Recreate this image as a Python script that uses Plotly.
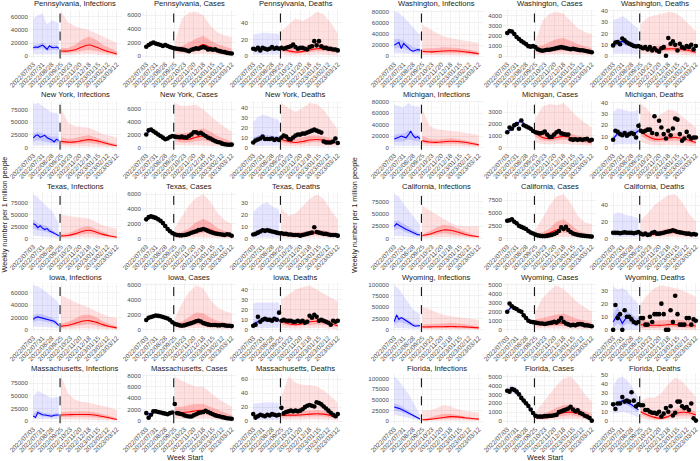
import plotly.graph_objects as go
import pandas as pd

# ---------------- x axis (weekly) ----------------
WEEKS = pd.date_range("2022-07-03", periods=37, freq="7D")
TICK_LABELS = ["2022/07/03", "2022/07/31", "2022/08/28", "2022/09/25", "2022/10/23",
               "2022/11/20", "2022/12/18", "2023/01/15", "2023/02/12", "2023/03/12"]
FIT_IDX = [0, 2, 4, 6, 8, 10, 11]          # weeks of fitted (blue) band values
FC_IDX = [12, 15, 18, 21, 24, 27, 30, 33, 36]  # weeks of forecast (red) band values
LINE_IDX = list(range(12))                  # weekly blue infection line
FORECAST_START = "2022-09-22"

LEFT_STATES = ["Pennsylvania", "New York", "Texas", "Iowa", "Massachusetts"]
RIGHT_STATES = ["Washington", "Michigan", "California", "Wyoming", "Florida"]
MEASURES = ["Infections", "Cases", "Deaths"]

# y tick steps per row: [Infections, Cases, Deaths]
Y_STEP_LEFT = [[20000, 2000, 20], [25000, 2000, 10], [25000, 2000, 10], [20000, 2000, 10], [25000, 2000, 20]]
Y_STEP_RIGHT = [[20000, 1000, 10], [20000, 1000, 10], [25000, 2500, 20], [25000, 1000, 10], [25000, 1000, 10]]

# rows of bands: [lo95, lo50, median, hi50, hi95]
# ---------------- Pennsylvania ----------------
PA_INF_LINE = [13000, 14000, 13500, 15500, 17000, 14000, 10500, 16000, 13500, 13000, 14000, 12000]
PA_INF_FIT = [[3000, 10000, 13000, 17000, 57000], [4000, 11000, 13500, 18000, 62000], [4000, 12000, 17000, 21000, 65000],
              [3000, 8000, 11000, 15000, 48000], [3000, 10000, 13500, 17000, 55000], [3000, 10000, 14000, 17000, 52000],
              [3000, 9000, 12000, 15000, 50000]]
PA_INF_FC = [[2000, 5000, 8000, 12500, 67500], [2000, 5000, 8000, 12500, 52000], [2500, 6000, 10000, 17500, 45000],
             [3000, 8000, 14000, 25000, 42000], [3500, 10000, 17000, 30000, 40000], [3000, 8000, 14000, 25000, 35000],
             [2000, 6000, 10000, 17500, 30000], [1500, 4000, 6500, 12500, 25000], [800, 2000, 3500, 7500, 20000]]
PA_CAS_OBS = [1400, 1650, 1850, 2000, 1850, 1750, 1650, 1500, 1650, 1500, 1350, 1250,
              1150, 1100, 1050, 1000, 950, 850, 750, 950, 1050, 1150, 1100, 1250, 1350, 1250, 1000, 1050,
              950, 1000, 850, 750, 650, 600, 500, 450, 400]
PA_CAS_FIT = [[1230, 1340, 1400, 1460, 1570], [1630, 1780, 1850, 1920, 2070], [1630, 1780, 1850, 1920, 2070],
              [1450, 1590, 1650, 1710, 1850], [1450, 1590, 1650, 1710, 1850], [1190, 1300, 1350, 1400, 1510],
              [1100, 1200, 1250, 1300, 1400]]
PA_CAS_FC = [[400, 800, 1000, 1200, 2000], [300, 600, 900, 1500, 5500], [300, 600, 900, 2000, 6400],
             [300, 700, 1200, 2600, 6500], [400, 900, 1700, 3000, 6000], [300, 700, 1300, 2300, 4500],
             [200, 500, 900, 1800, 3500], [150, 400, 700, 1500, 3000], [100, 250, 450, 1100, 2800]]
PA_DEA_OBS = [9, 8, 10, 7, 10, 9, 8, 9, 11, 9, 10, 9,
              10, 9, 10, 11, 12, 14, 11, 9, 10, 10, 9, 8, 11, 12, 18, 13, 18, 12, 10, 10, 9, 9, 8, 8, 7]
PA_DEA_FIT = [[2, 7, 9, 11, 26], [2, 7, 9.5, 12, 27], [2, 7.5, 9.5, 12, 28], [2, 7, 9, 11.5, 28],
              [2, 7.5, 9.5, 12, 27], [2, 7, 9, 11.5, 27], [2, 7, 9, 11, 26]]
PA_DEA_FC = [[2, 6, 9, 13, 30], [1, 4, 6.5, 11, 37], [1, 3, 5, 10, 45], [1, 3.5, 5.5, 11, 42], [1.5, 5, 7.5, 14, 46],
             [2, 6, 9, 16, 53], [2, 6, 9, 14, 50], [1.5, 5, 8, 12, 40], [1, 4, 6, 9, 27]]

# ---------------- New York ----------------
NY_INF_LINE = [19000, 23000, 25000, 20000, 22000, 24000, 19000, 17000, 15000, 11000, 16000, 14000]
NY_INF_FIT = [[4000, 12000, 19000, 27000, 85000], [5000, 15000, 25000, 30000, 88000], [5000, 13000, 22000, 28000, 82000],
              [4000, 11000, 19000, 25000, 75000], [4000, 9000, 15000, 21000, 69000], [4000, 9000, 16000, 22000, 68000],
              [4000, 8000, 14000, 20000, 65000]]
NY_INF_FC = [[2500, 7000, 12000, 20000, 78000], [2000, 6000, 10500, 17000, 49000], [2000, 6500, 11000, 18000, 42000],
             [2500, 8000, 13500, 22000, 41000], [3000, 9000, 15500, 24000, 39000], [2500, 8000, 13500, 20000, 33000],
             [2000, 6000, 10000, 15000, 26000], [1200, 4000, 6500, 10000, 23000], [600, 2000, 3500, 7000, 19600]]
NY_CAS_OBS = [2050, 2700, 2800, 2550, 2300, 2050, 1800, 1550, 1300, 1400, 1650, 1800,
              1700, 1650, 1600, 1700, 1600, 1550, 1800, 2050, 2400, 2400, 2200, 2300, 2050, 1800, 1550, 1400,
              1200, 1000, 870, 770, 600, 500, 450, 430, 450]
NY_CAS_FIT = [[1800, 1970, 2050, 2130, 2300], [2460, 2690, 2800, 2910, 3140], [2020, 2210, 2300, 2390, 2580],
              [1580, 1730, 1800, 1870, 2020], [1140, 1250, 1300, 1350, 1460], [1450, 1580, 1650, 1720, 1850],
              [1580, 1730, 1800, 1870, 2020]]
NY_CAS_FC = [[400, 1000, 1500, 2200, 7000], [300, 800, 1300, 2200, 6500], [300, 800, 1300, 2400, 6600],
             [350, 1000, 1600, 2800, 6700], [400, 1100, 1800, 3000, 6000], [300, 900, 1500, 2500, 5000],
             [200, 600, 1100, 1800, 4000], [150, 400, 700, 1300, 3200], [100, 250, 450, 900, 2500]]
NY_DEA_OBS = [5, 7, 8, 9, 11, 8.5, 8.5, 8.5, 9, 7.5, 8.5, 7.5,
              10, 12, 11, 8.5, 8, 10, 12, 13, 13, 14, 14, 15, 16, 17, 18, 17, 16, 15, 6, 5,
              5, 5, 6, 9, 4.5]
NY_DEA_FIT = [[1.5, 5, 7, 10, 26], [2, 6, 8.5, 12, 31], [2, 7, 9.5, 13, 33], [2, 6.5, 9, 12.5, 32],
              [2, 6.5, 9, 12, 30], [2, 6, 8.5, 11.5, 29], [2, 6, 8, 11, 28]]
NY_DEA_FC = [[1.5, 5, 8, 12, 45], [1, 4, 6, 10, 40], [1, 3, 5, 9, 36], [1, 3.5, 6, 10, 40], [1.5, 5, 7.5, 12, 45],
             [2, 5.5, 8, 12, 44], [1.5, 5, 7.5, 11, 38], [1, 4, 6, 9, 28], [0.8, 3, 4.5, 7, 18]]

# ---------------- Texas ----------------
TX_INF_LINE = [31000, 29000, 23000, 27000, 22000, 19000, 21000, 16000, 14000, 12000, 9000, 6000]
TX_INF_FIT = [[6000, 22000, 31000, 40000, 93000], [5000, 17000, 23000, 32000, 86000], [5000, 16000, 22000, 29000, 76000],
              [4000, 14000, 21000, 26000, 66000], [3000, 10000, 14000, 19000, 59000], [2000, 6000, 9000, 13000, 42000],
              [1500, 4000, 6000, 9000, 32000]]
TX_INF_FC = [[1500, 3500, 5500, 9000, 50000], [1500, 4000, 6500, 11000, 47000], [2000, 6000, 10000, 17000, 45000],
             [3000, 9000, 15000, 24000, 44000], [3500, 11000, 17500, 26000, 42000], [3000, 9000, 14000, 20000, 35000],
             [2000, 6000, 9000, 13000, 28000], [1200, 3500, 5500, 8000, 24000], [600, 1800, 3000, 5000, 21000]]
TX_CAS_OBS = [2600, 2900, 3000, 2900, 2800, 2600, 2400, 2100, 1700, 1300, 1000, 750,
              600, 500, 450, 450, 500, 550, 650, 800, 900, 1000, 1150, 1200, 1300, 1200, 1050, 900,
              800, 700, 650, 600, 550, 500, 600, 550, 400]
TX_CAS_FIT = [[2290, 2500, 2600, 2700, 2910], [2640, 2880, 3000, 3120, 3360], [2460, 2690, 2800, 2910, 3140],
              [2110, 2300, 2400, 2500, 2690], [1500, 1630, 1700, 1770, 1900], [880, 960, 1000, 1040, 1120],
              [660, 720, 750, 780, 840]]
TX_CAS_FC = [[100, 300, 500, 800, 1500], [100, 300, 500, 900, 3000], [150, 400, 700, 1400, 4500],
             [200, 600, 1100, 2200, 5500], [250, 800, 1400, 2700, 6000], [200, 700, 1200, 2200, 5000],
             [150, 450, 800, 1400, 3500], [100, 300, 550, 1000, 2500], [50, 200, 350, 700, 2000]]
TX_DEA_OBS = [3.5, 4, 5, 6, 7, 6.5, 7, 6.5, 6, 5.5, 5, 4.5,
              4.5, 4, 4, 3.5, 3.5, 3, 3, 3, 2.5, 3, 3.5, 4, 4.5, 5, 9.5, 5.5, 5, 4.5, 4, 4,
              3.5, 3, 3, 3, 2.5]
TX_DEA_FIT = [[0.5, 2.5, 3.5, 5, 22], [0.8, 3.5, 5, 7, 26], [1, 4.5, 6.5, 8.5, 29], [1, 5, 7, 9, 30],
              [1, 4.5, 6, 8, 27], [0.8, 3.5, 5, 7, 25], [0.7, 3, 4.5, 6, 24]]
TX_DEA_FC = [[1, 3, 4.5, 6, 25], [0.8, 2.5, 3.5, 5, 19], [0.7, 2, 3, 5, 21], [0.8, 2.5, 3.5, 6, 27], [1, 3, 4.5, 7, 33],
             [1.2, 3.5, 5, 7.5, 37], [1, 3, 4.5, 7, 33], [0.8, 2.5, 3.5, 5.5, 24], [0.5, 1.5, 2.5, 4, 16]]

# ---------------- Iowa ----------------
IA_INF_LINE = [17000, 20000, 21000, 20000, 19000, 18000, 17500, 17000, 16000, 14000, 11000, 7000]
IA_INF_FIT = [[5000, 12000, 17000, 24000, 72000], [5000, 15000, 21000, 26000, 70000], [5000, 14000, 19000, 25000, 66000],
              [4000, 13000, 17500, 22000, 60000], [4000, 11000, 16000, 20000, 55000], [3000, 8000, 11000, 15000, 48000],
              [2000, 5000, 7000, 10000, 42000]]
IA_INF_FC = [[1500, 3500, 6000, 10000, 56000], [1500, 4500, 7500, 13000, 50000], [2000, 6000, 10500, 18000, 45000],
             [2500, 8000, 14000, 24000, 40000], [3000, 9000, 15000, 25000, 36000], [2500, 7500, 12500, 21000, 30000],
             [1800, 5000, 8500, 14000, 25000], [1200, 3200, 5500, 9000, 21000], [600, 1800, 3200, 6000, 19000]]
IA_CAS_OBS = [1300, 1600, 1700, 1800, 1900, 1850, 1800, 1700, 1600, 1500, 1300, 1000,
              800, 700, 600, 550, 600, 700, 800, 900, 1000, 1150, 1200, 1100, 900, 800, 700, 650,
              650, 650, 600, 600, 650, 600, 550, 550, 500]
IA_CAS_FIT = [[1140, 1250, 1300, 1350, 1460], [1500, 1630, 1700, 1770, 1900], [1670, 1820, 1900, 1980, 2130],
              [1580, 1730, 1800, 1870, 2020], [1410, 1540, 1600, 1660, 1790], [1140, 1250, 1300, 1350, 1460],
              [880, 960, 1000, 1040, 1120]]
IA_CAS_FC = [[150, 400, 600, 900, 1500], [150, 400, 700, 1100, 3500], [200, 500, 900, 1700, 5000],
             [250, 700, 1200, 2300, 5900], [250, 650, 1100, 2200, 5500], [200, 500, 850, 1600, 4000],
             [150, 400, 650, 1200, 3000], [100, 300, 500, 900, 2500], [80, 200, 400, 700, 2200]]
IA_DEA_OBS = [4, 5, 13, 8, 10, 11, 10, 10, 9, 11, 10, 17,
              9, 10, 9, 9, 9, 8, 8, 9, 8, 9, 7, 8, 14, 12, 15, 13, 9, 10, 9, 8,
              7, 5, 9, 8, 9]
IA_DEA_FIT = [[1, 4, 6, 8, 26], [1.5, 6, 8, 11, 27], [2, 7.5, 10, 12.5, 27], [2, 7.5, 10, 12.5, 27],
              [2, 7.5, 10, 12.5, 27], [2, 7.5, 10, 12.5, 27], [2, 7.5, 10, 12.5, 27]]
IA_DEA_FC = [[2, 5.5, 8, 11, 30], [1.5, 4, 6, 9, 35], [1, 3.5, 5, 9, 40], [1.2, 4, 6, 10, 42], [1.5, 5, 8, 12, 44],
             [2, 5.5, 8.5, 12, 40], [1.5, 5, 7.5, 11, 36], [1, 4, 6, 9, 32], [0.7, 2.5, 4, 7, 28]]

# ---------------- Massachusetts ----------------
MA_INF_LINE = [10000, 7000, 17000, 14000, 12500, 12000, 11000, 10500, 9500, 11500, 12500, 12000]
MA_INF_FIT = [[4000, 7000, 10000, 14000, 48000], [4000, 12000, 17000, 22000, 60000], [4000, 9000, 12500, 17000, 55000],
              [4000, 8000, 11000, 15000, 50000], [4000, 7000, 9500, 14000, 45000], [4000, 9000, 12500, 16000, 48000],
              [4000, 9000, 12000, 16000, 47000]]
MA_INF_FC = [[3000, 8000, 12000, 18000, 88000], [3000, 8000, 12500, 19000, 55000], [3000, 8500, 13000, 19000, 42000],
             [3000, 8500, 13000, 19000, 38000], [3000, 8500, 13000, 19000, 36000], [2500, 7500, 11500, 17000, 33000],
             [2000, 6000, 9000, 14000, 30000], [1300, 4000, 6000, 10000, 27000], [700, 2000, 3000, 6000, 22000]]
MA_CAS_OBS = [1400, 600, 1100, 1700, 1700, 1600, 1500, 1400, 1300, 1200, 1400, 1500,
              3000, 1400, 1300, 1200, 1000, 900, 800, 800, 1000, 1200, 1400, 1500, 1600, 1800, 1600, 1400,
              1200, 1000, 900, 800, 700, 600, 500, 450, 400]
MA_CAS_FIT = [[1230, 1340, 1400, 1460, 1570], [970, 1060, 1100, 1140, 1230], [1500, 1630, 1700, 1770, 1900],
              [1320, 1440, 1500, 1560, 1680], [1140, 1250, 1300, 1350, 1460], [1230, 1340, 1400, 1460, 1570],
              [1320, 1440, 1500, 1560, 1680]]
MA_CAS_FC = [[400, 1000, 1500, 2500, 7800], [350, 900, 1500, 2500, 7000], [350, 1000, 1600, 2800, 6500],
             [400, 1100, 1800, 3000, 6000], [450, 1200, 1900, 3000, 6000], [400, 1000, 1600, 2500, 5000],
             [250, 700, 1200, 2000, 4000], [150, 500, 800, 1400, 3200], [100, 300, 500, 1000, 2500]]
MA_DEA_OBS = [10, 5, 7, 9, 8, 7, 9, 8, 10, 9, 8, 9,
              19, 11, 13, 14, 15, 14, 15, 14, 15, 17, 20, 22, 23, 22, 21, 27, 26, 24, 21, 18,
              15, 12, 9, 7, 10]
MA_DEA_FIT = [[2, 5.5, 7.5, 9.5, 25], [2, 5.5, 7.5, 10, 26], [2, 6, 8, 10.5, 27], [2, 6, 8, 10.5, 27],
              [2, 6, 8.5, 11, 27], [2, 6, 8.5, 11, 26], [2, 6, 8.5, 11, 26]]
MA_DEA_FC = [[2, 5, 8, 12, 35], [2, 5.5, 8.5, 13, 64], [2, 5.5, 8.5, 14, 55], [2, 6, 9, 15, 52], [2.5, 6.5, 10, 16, 52],
             [2.5, 7, 10.5, 16, 50], [2.5, 6.5, 10, 15, 44], [2, 5, 8, 12, 36], [1, 3, 5, 8, 26]]

# ---------------- Washington ----------------
WA_INF_LINE = [20000, 22000, 25000, 14000, 23000, 19000, 15000, 11000, 9000, 10000, 12000, 11000]
WA_INF_FIT = [[5000, 14000, 20000, 30000, 80000], [5000, 15000, 25000, 31000, 78000], [5000, 14000, 23000, 28000, 70000],
              [4000, 11000, 15000, 22000, 62000], [3000, 7000, 9000, 16000, 52000], [3000, 7000, 11000, 15000, 42000],
              [3000, 7000, 11000, 15000, 40000]]
WA_INF_FC = [[2000, 5500, 9000, 14000, 56000], [2000, 5000, 8000, 14000, 50000], [2000, 5000, 8500, 15000, 42000],
             [2000, 5500, 9500, 16000, 36000], [2200, 6000, 10000, 16000, 33000], [2000, 5500, 9500, 15000, 30000],
             [1800, 5000, 8000, 13000, 28000], [1300, 4000, 6500, 11000, 26000], [800, 2500, 4500, 8000, 24000]]
WA_CAS_OBS = [2300, 2500, 2450, 2200, 1900, 1700, 1500, 1350, 1200, 1000, 950, 1000,
              900, 700, 600, 550, 600, 650, 650, 700, 750, 800, 850, 900, 850, 800, 750, 700,
              750, 700, 650, 600, 600, 550, 500, 450, 400]
WA_CAS_FIT = [[2020, 2210, 2300, 2390, 2580], [2160, 2350, 2450, 2550, 2740], [1670, 1820, 1900, 1980, 2130],
              [1320, 1440, 1500, 1560, 1680], [1060, 1150, 1200, 1250, 1340], [840, 910, 950, 990, 1060],
              [880, 960, 1000, 1040, 1120]]
WA_CAS_FC = [[150, 450, 700, 1000, 1500], [150, 400, 650, 1100, 3500], [150, 450, 700, 1400, 4200],
             [200, 500, 850, 1700, 4400], [200, 550, 900, 1800, 4200], [200, 500, 800, 1500, 3500],
             [150, 400, 650, 1200, 2800], [120, 350, 550, 1000, 2400], [80, 250, 450, 800, 2200]]
WA_DEA_OBS = [9.5, 12, 12.5, 10.5, 15.5, 14, 12, 11, 10, 9, 8.5, 9,
              8, 7, 8, 6, 8, 5, 7, 5, 4, 7, 8, 0.5, 16, 11, 13, 10, 5, 11, 8, 7,
              9, 8, 10, 6, 9]
WA_DEA_FIT = [[2, 8, 10, 13, 32], [2.5, 9, 12, 15, 33], [2.5, 10, 13, 16, 35], [2, 9, 11, 14, 33],
              [2, 8, 10, 12.5, 29], [1.5, 7, 9, 11, 26], [1.5, 6.5, 8.5, 10.5, 24]]
WA_DEA_FC = [[2, 5, 7.5, 10, 28], [1.5, 4.5, 6.5, 9, 34], [1.5, 4, 6, 9, 36], [1.5, 4, 6, 9, 37], [1.5, 4.5, 6.5, 10, 39],
             [1.5, 4.5, 6.5, 10, 38], [1.5, 4, 6, 9, 34], [1, 3, 5, 8, 28], [0.5, 2, 3.5, 6, 22]]

# ---------------- Michigan ----------------
MI_INF_LINE = [15000, 16000, 18000, 20000, 19000, 17000, 22000, 29000, 21000, 17000, 19000, 15000]
MI_INF_FIT = [[3000, 10000, 15000, 22000, 75000], [3000, 11000, 18000, 24000, 72000], [3000, 11000, 19000, 24000, 70000],
              [3000, 14000, 22000, 30000, 78000], [3000, 12000, 21000, 25000, 72000], [3000, 11000, 19000, 23000, 72000],
              [3000, 10000, 15000, 21000, 70000]]
MI_INF_FC = [[2500, 7500, 12000, 20000, 67000], [2000, 6000, 9500, 15000, 38000], [2000, 5500, 9000, 14000, 32000],
             [2000, 6000, 10000, 15000, 30000], [2200, 6500, 11000, 16000, 29000], [2200, 6500, 10500, 15000, 28000],
             [2000, 5500, 9000, 13000, 26000], [1500, 4000, 7000, 10000, 24000], [800, 2500, 4500, 7000, 22000]]
MI_CAS_OBS = [1300, 1700, 1600, 1900, 2000, 1600, 2300, 1900, 1800, 1700, 1600, 1400,
              1300, 1250, 1200, 1250, 1350, 1100, 900, 900, 1100, 1300, 1400, 1200, 1150, 1100, 1100, 700,
              650, 700, 650, 700, 650, 700, 750, 600, 650]
MI_CAS_FIT = [[1140, 1250, 1300, 1350, 1460], [1410, 1540, 1600, 1660, 1790], [1760, 1920, 2000, 2080, 2240],
              [2020, 2210, 2300, 2390, 2580], [1580, 1730, 1800, 1870, 2020], [1410, 1540, 1600, 1660, 1790],
              [1230, 1340, 1400, 1460, 1570]]
MI_CAS_FC = [[400, 900, 1200, 1500, 2500], [300, 600, 850, 1300, 3500], [250, 550, 750, 1200, 3700],
             [300, 600, 850, 1300, 3600], [300, 650, 950, 1400, 3800], [300, 600, 850, 1200, 3200],
             [250, 500, 700, 1000, 2600], [200, 400, 600, 900, 2100], [150, 300, 450, 700, 1700]]
MI_DEA_OBS = [7, 15, 14, 12, 11, 13, 10.5, 12, 13, 12, 9, 19.5,
              15, 14, 15, 16, 16, 13, 28, 12, 24, 18, 12, 8, 15, 11, 17, 26, 25, 12, 6, 8,
              14, 10, 8, 9, 9]
MI_DEA_FIT = [[2, 6, 8, 11, 32], [3, 10, 12.5, 15, 35], [3, 10, 12, 15, 34], [3, 10, 12, 15, 33],
              [3, 10, 12.5, 15.5, 32], [3, 11, 13.5, 17, 33], [3.5, 12, 15, 18, 34]]
MI_DEA_FC = [[5, 11, 15, 18, 40], [3, 7, 10, 13, 34], [2, 5, 7.5, 11, 26], [2, 5, 7.5, 12, 30], [2.5, 5.5, 8.5, 13, 34],
             [2.5, 6, 9, 13, 33], [2, 5.5, 8, 12, 28], [1.5, 4.5, 6.5, 10, 23], [1, 3, 4.5, 8, 18]]

# ---------------- California ----------------
CA_INF_LINE = [25000, 30000, 27000, 24000, 22000, 19000, 17000, 15000, 12000, 10000, 8000, 8000]
CA_INF_FIT = [[6000, 18000, 25000, 35000, 90000], [6000, 20000, 27000, 36000, 85000], [5000, 15000, 22000, 30000, 70000],
              [4000, 11000, 17000, 24000, 58000], [3000, 8000, 12000, 18000, 45000], [2000, 5000, 8000, 12000, 32000],
              [2000, 5000, 8000, 10000, 28000]]
CA_INF_FC = [[1500, 4000, 6500, 9000, 66000], [2000, 5500, 9000, 15000, 57000], [3000, 8500, 14000, 23000, 48000],
             [3500, 11000, 17500, 28000, 40000], [3500, 10500, 17000, 26000, 32000], [3000, 8500, 13500, 20000, 26000],
             [2000, 5500, 9000, 14000, 25000], [1200, 3500, 6000, 9000, 25000], [700, 2200, 4000, 6000, 25000]]
CA_CAS_OBS = [3500, 3600, 3800, 3300, 3000, 2500, 2300, 2100, 1900, 1500, 1200, 1000,
              800, 650, 550, 500, 500, 550, 650, 750, 900, 1100, 1500, 2200, 1900, 2300, 1700, 1300,
              1000, 850, 750, 650, 600, 550, 500, 450, 400]
CA_CAS_FIT = [[3080, 3360, 3500, 3640, 3920], [3340, 3650, 3800, 3950, 4260], [2640, 2880, 3000, 3120, 3360],
              [2020, 2210, 2300, 2390, 2580], [1670, 1820, 1900, 1980, 2130], [1060, 1150, 1200, 1250, 1340],
              [880, 960, 1000, 1040, 1120]]
CA_CAS_FC = [[150, 450, 700, 1000, 1800], [150, 450, 700, 1200, 4000], [200, 650, 1100, 2000, 6500],
             [300, 1000, 1700, 3300, 8300], [350, 1200, 2000, 3800, 8700], [300, 900, 1500, 2800, 7000],
             [200, 550, 900, 1600, 4500], [120, 350, 600, 1000, 3200], [80, 250, 400, 700, 2800]]
CA_DEA_OBS = [7, 7, 7, 6.5, 7, 7.5, 7, 7, 7, 6.5, 7, 8,
              6, 5, 6, 4.5, 5, 7, 8, 6, 6, 6.5, 7, 8, 8.5, 9, 10, 9, 8, 7.5, 7, 6.5,
              6, 6, 5, 5.5, 5]
CA_DEA_FIT = [[2, 5.5, 7, 8.5, 29], [2, 5.5, 7, 8.5, 31], [2, 5.5, 7, 8.5, 30], [2, 5.5, 7, 8.5, 28],
              [2, 5.5, 7, 8.5, 27], [2, 5.5, 7, 8.5, 25], [2, 5.5, 7, 8.5, 24]]
CA_DEA_FC = [[2, 4.5, 6, 8, 22], [1.5, 3.5, 5, 7, 30], [1.5, 3.5, 5, 8, 40], [1.5, 4, 6, 10, 46], [2, 5, 7.5, 12, 52],
             [2, 5.5, 8, 12, 53], [2, 5, 7, 10, 44], [1.5, 4, 5.5, 8, 30], [1, 2.5, 4, 6, 20]]

# ---------------- Wyoming ----------------
WY_INF_LINE = [18000, 33000, 23000, 27000, 24000, 21000, 18000, 14000, 10000, 8000, 9000, 9000]
WY_INF_FIT = [[4000, 12000, 18000, 25000, 98000], [4000, 17000, 23000, 30000, 90000], [4000, 15000, 24000, 28000, 75000],
              [3000, 11000, 18000, 22000, 60000], [2000, 7000, 10000, 15000, 45000], [2000, 6000, 9000, 12000, 38000],
              [2000, 6000, 9000, 12000, 35000]]
WY_INF_FC = [[1200, 3500, 6500, 11000, 50000], [1200, 3500, 6500, 12000, 46000], [1300, 3800, 7000, 13000, 38000],
             [1300, 4000, 7000, 14000, 33000], [1400, 4200, 7500, 15000, 30000], [1300, 4000, 7000, 14000, 28000],
             [1200, 3500, 6500, 12000, 26000], [1000, 3000, 5500, 10000, 24000], [800, 2500, 4500, 8000, 22000]]
WY_CAS_OBS = [2000, 2900, 2600, 2400, 2300, 2100, 2000, 1600, 1300, 1000, 900, 850,
              800, 750, 700, 700, 650, 700, 750, 800, 900, 800, 1000, 1300, 900, 700, 600, 500,
              550, 500, 600, 650, 600, 500, 500, 450, 400]
WY_CAS_FIT = [[1760, 1920, 2000, 2080, 2240], [2290, 2500, 2600, 2700, 2910], [2020, 2210, 2300, 2390, 2580],
              [1760, 1920, 2000, 2080, 2240], [1140, 1250, 1300, 1350, 1460], [790, 860, 900, 940, 1010],
              [750, 820, 850, 880, 950]]
WY_CAS_FC = [[150, 450, 750, 1200, 2000], [150, 400, 650, 1300, 3500], [150, 400, 650, 1500, 4300],
             [150, 450, 700, 1700, 4900], [150, 450, 750, 1800, 4500], [150, 400, 650, 1500, 3800],
             [120, 350, 550, 1200, 3000], [100, 300, 450, 1000, 2500], [80, 200, 350, 800, 2000]]
WY_DEA_OBS = [0, 19, 9, 12, 0, 15, 10, 10, 8, 6, 5, 6,
              9, 9, 4, 4, 10, 6, 12, 12, 12, 20, 12, 0, 0, 15, 6, 26, 12, 4, 4, 4,
              9, 9, 4, 8, 7]
WY_DEA_FIT = [[0, 2, 6, 12, 33], [0, 5, 12, 18, 31], [0, 2, 5, 10, 32], [0, 5, 10, 15, 30],
              [0, 4, 8, 12, 25], [0, 3, 6, 9, 22], [0, 2.5, 5.5, 8.5, 18]]
WY_DEA_FC = [[0, 1.5, 4, 8, 20], [0, 1.5, 3.5, 7, 27], [0, 1.5, 3.5, 7, 32], [0, 1.5, 3.5, 7.5, 34], [0, 2, 4, 8, 33],
             [0, 2, 4, 8, 32], [0, 1.5, 3.5, 7.5, 30], [0, 1.5, 3.5, 7, 28], [0, 1, 3, 6, 25]]

# ---------------- Florida ----------------
FL_INF_LINE = [33000, 32000, 30000, 28000, 25000, 22000, 19000, 16000, 13000, 10000, 7000, 5000]
FL_INF_FIT = [[15000, 25000, 33000, 42000, 105000], [13000, 23000, 30000, 38000, 95000], [10000, 19000, 25000, 32000, 80000],
              [7000, 15000, 19000, 25000, 65000], [4000, 10000, 13000, 17000, 45000], [2000, 5000, 7000, 10000, 25000],
              [1000, 3000, 5000, 6000, 15000]]
FL_INF_FC = [[500, 1500, 3000, 5000, 25000], [700, 2500, 4000, 8000, 25000], [1000, 3500, 6000, 13000, 30000],
             [1500, 5000, 8500, 17000, 38000], [2000, 6000, 10500, 17000, 35000], [2000, 6000, 10000, 14000, 28000],
             [1500, 5000, 8000, 10000, 24000], [1000, 3500, 6000, 8000, 22000], [700, 2500, 4500, 6000, 20000]]
FL_CAS_OBS = [3400, 3300, 3600, 3500, 3300, 3000, 2600, 2300, 2000, 1700, 1300, 900,
              600, 500, 500, 500, 550, 550, 600, 600, 650, 700, 1000, 1100, 1200, 1300, 1400, 1600,
              1300, 1100, 1200, 900, 800, 600, 500, 350, 50]
FL_CAS_FIT = [[2990, 3260, 3400, 3540, 3810], [3170, 3460, 3600, 3740, 4030], [2900, 3170, 3300, 3430, 3700],
              [2290, 2500, 2600, 2700, 2910], [1760, 1920, 2000, 2080, 2240], [1140, 1250, 1300, 1350, 1460],
              [790, 860, 900, 940, 1010]]
FL_CAS_FC = [[80, 250, 400, 600, 1000], [80, 250, 350, 800, 2000], [100, 300, 450, 1100, 3000],
             [150, 450, 700, 1500, 4000], [200, 600, 950, 1800, 4800], [250, 650, 1000, 1800, 5000],
             [200, 550, 850, 1500, 4200], [150, 400, 650, 1100, 3000], [100, 250, 450, 800, 2200]]
FL_DEA_OBS = [18, 13, 19, 19, 26, 21, 22, 21, 31, 22, 16, 18,
              17, 17, 12, 12, 10, 9, 9, 8, 10, 5, 8, 14, 10, 16, 6, 9, 21, 21, 16, 14,
              15, 12, 19, 3, 0.5]
FL_DEA_FIT = [[8, 14, 17, 20, 38], [9, 16, 19, 22, 46], [10, 18, 22, 25, 48], [9, 17, 20, 23, 44],
              [7, 14, 17.5, 20, 38], [5, 11, 14, 17, 30], [4, 9, 12, 15, 25]]
FL_DEA_FC = [[3, 7, 10, 14, 22], [1.5, 4, 6.5, 11, 25], [0.7, 2, 4, 8, 25], [0.5, 1.5, 3, 7, 30], [1, 3, 5, 10, 40],
             [2, 5, 8, 13, 47], [2.5, 6, 9.5, 14, 43], [2.5, 6, 9, 13, 35], [1.5, 4, 6.5, 10, 26]]

# ---------------- assemble panel lookup from the arrays above ----------------
PANELS = {
    ("Pennsylvania", "Infections"): (PA_INF_FIT, PA_INF_FC, PA_INF_LINE, None),
    ("Pennsylvania", "Cases"): (PA_CAS_FIT, PA_CAS_FC, None, PA_CAS_OBS),
    ("Pennsylvania", "Deaths"): (PA_DEA_FIT, PA_DEA_FC, None, PA_DEA_OBS),
    ("New York", "Infections"): (NY_INF_FIT, NY_INF_FC, NY_INF_LINE, None),
    ("New York", "Cases"): (NY_CAS_FIT, NY_CAS_FC, None, NY_CAS_OBS),
    ("New York", "Deaths"): (NY_DEA_FIT, NY_DEA_FC, None, NY_DEA_OBS),
    ("Texas", "Infections"): (TX_INF_FIT, TX_INF_FC, TX_INF_LINE, None),
    ("Texas", "Cases"): (TX_CAS_FIT, TX_CAS_FC, None, TX_CAS_OBS),
    ("Texas", "Deaths"): (TX_DEA_FIT, TX_DEA_FC, None, TX_DEA_OBS),
    ("Iowa", "Infections"): (IA_INF_FIT, IA_INF_FC, IA_INF_LINE, None),
    ("Iowa", "Cases"): (IA_CAS_FIT, IA_CAS_FC, None, IA_CAS_OBS),
    ("Iowa", "Deaths"): (IA_DEA_FIT, IA_DEA_FC, None, IA_DEA_OBS),
    ("Massachusetts", "Infections"): (MA_INF_FIT, MA_INF_FC, MA_INF_LINE, None),
    ("Massachusetts", "Cases"): (MA_CAS_FIT, MA_CAS_FC, None, MA_CAS_OBS),
    ("Massachusetts", "Deaths"): (MA_DEA_FIT, MA_DEA_FC, None, MA_DEA_OBS),
    ("Washington", "Infections"): (WA_INF_FIT, WA_INF_FC, WA_INF_LINE, None),
    ("Washington", "Cases"): (WA_CAS_FIT, WA_CAS_FC, None, WA_CAS_OBS),
    ("Washington", "Deaths"): (WA_DEA_FIT, WA_DEA_FC, None, WA_DEA_OBS),
    ("Michigan", "Infections"): (MI_INF_FIT, MI_INF_FC, MI_INF_LINE, None),
    ("Michigan", "Cases"): (MI_CAS_FIT, MI_CAS_FC, None, MI_CAS_OBS),
    ("Michigan", "Deaths"): (MI_DEA_FIT, MI_DEA_FC, None, MI_DEA_OBS),
    ("California", "Infections"): (CA_INF_FIT, CA_INF_FC, CA_INF_LINE, None),
    ("California", "Cases"): (CA_CAS_FIT, CA_CAS_FC, None, CA_CAS_OBS),
    ("California", "Deaths"): (CA_DEA_FIT, CA_DEA_FC, None, CA_DEA_OBS),
    ("Wyoming", "Infections"): (WY_INF_FIT, WY_INF_FC, WY_INF_LINE, None),
    ("Wyoming", "Cases"): (WY_CAS_FIT, WY_CAS_FC, None, WY_CAS_OBS),
    ("Wyoming", "Deaths"): (WY_DEA_FIT, WY_DEA_FC, None, WY_DEA_OBS),
    ("Florida", "Infections"): (FL_INF_FIT, FL_INF_FC, FL_INF_LINE, None),
    ("Florida", "Cases"): (FL_CAS_FIT, FL_CAS_FC, None, FL_CAS_OBS),
    ("Florida", "Deaths"): (FL_DEA_FIT, FL_DEA_FC, None, FL_DEA_OBS),
}

# ---------------- layout constants ----------------
W, H = 700, 461
COL_PX = [(29, 121), (142, 236), (249, 342), (390, 483), (503, 596), (609, 700)]
ROW_TOP0, ROW_PITCH, ROW_H = 9.5, 91.2, 49
FONT = "Liberation Sans, Arial, Helvetica, sans-serif"
BLUE_LIGHT = "rgba(0,0,255,0.10)"
BLUE_DARK = "rgba(0,0,255,0.14)"
RED_LIGHT = "rgba(255,0,0,0.12)"
RED_DARK = "rgba(255,0,0,0.20)"
GRID = "#ebebeb"
GRID_MINOR = "#f5f5f5"

def d(ts):
    return pd.Timestamp(ts).strftime("%Y-%m-%d")

x_lo = WEEKS[0] - pd.Timedelta(days=12.6)
x_hi = WEEKS[-1] + pd.Timedelta(days=12.6)
tick_dates = [d(WEEKS[i]) for i in range(0, 37, 4)]
minor_dates = [d(WEEKS[i]) for i in range(2, 37, 4)]

fig = go.Figure()
layout_axes = {}
annotations = []
shapes = []


def band(xs, lo, hi, color, xa, ya):
    return go.Scatter(x=xs + xs[::-1], y=list(hi) + list(lo)[::-1], fill="toself", fillcolor=color,
                      mode="lines", line=dict(width=0, color=color), hoverinfo="skip",
                      showlegend=False, xaxis=xa, yaxis=ya)


k = 0
for block, states in enumerate([LEFT_STATES, RIGHT_STATES]):
    steps = Y_STEP_LEFT if block == 0 else Y_STEP_RIGHT
    for r, st in enumerate(states):
        for c, meas in enumerate(MEASURES):
            k += 1
            fit, fc, line, obs = PANELS[(st, meas)]
            xa = "x" if k == 1 else f"x{k}"
            ya = "y" if k == 1 else f"y{k}"
            x0, x1 = COL_PX[block * 3 + c]
            ytop = ROW_TOP0 + ROW_PITCH * r
            ybot = ytop + ROW_H

            fx = [d(WEEKS[i]) for i in FIT_IDX]
            cx = [d(WEEKS[i]) for i in FC_IDX]
            col = lambda rows, j: [row[j] for row in rows]

            fig.add_trace(band(fx, col(fit, 0), col(fit, 4), BLUE_LIGHT, xa, ya))
            fig.add_trace(band(fx, col(fit, 1), col(fit, 3), BLUE_DARK, xa, ya))
            fig.add_trace(band(cx, col(fc, 0), col(fc, 4), RED_LIGHT, xa, ya))
            fig.add_trace(band(cx, col(fc, 1), col(fc, 3), RED_DARK, xa, ya))

            if line is not None:
                bx = [d(WEEKS[i]) for i in LINE_IDX]
                by = line
            else:
                bx, by = fx, col(fit, 2)
            fig.add_trace(go.Scatter(x=bx, y=by, mode="lines", line=dict(color="blue", width=1.1),
                                     hoverinfo="skip", showlegend=False, xaxis=xa, yaxis=ya))
            fig.add_trace(go.Scatter(x=cx, y=col(fc, 2), mode="lines", line=dict(color="red", width=1.1),
                                     line_shape="spline", hoverinfo="skip", showlegend=False, xaxis=xa, yaxis=ya))
            if obs is not None:
                fig.add_trace(go.Scatter(x=[d(w) for w in WEEKS], y=obs, mode="markers",
                                         marker=dict(color="black", size=4.6), hoverinfo="skip",
                                         showlegend=False, xaxis=xa, yaxis=ya))

            vals = [v for row in fit for v in row] + [v for row in fc for v in row]
            if line is not None:
                vals += list(line)
            if obs is not None:
                vals += list(obs)
            hi = max(vals)
            lo = min(0, min(vals))
            span = hi - lo
            step = steps[r][c]

            layout_axes["xaxis" if k == 1 else f"xaxis{k}"] = dict(
                domain=[x0 / W, x1 / W], anchor=ya, type="date", range=[d(x_lo) + " 09:36", d(x_hi) + " 14:24"],
                tickmode="array", tickvals=tick_dates, ticktext=TICK_LABELS, tickangle=-45, automargin=False,
                tickfont=dict(size=6.5, color="#4d4d4d", family=FONT), ticks="", showline=False,
                zeroline=False, showgrid=True, gridcolor=GRID, gridwidth=0.7, fixedrange=True,
                minor=dict(tickmode="array", tickvals=minor_dates, showgrid=True, gridcolor=GRID_MINOR, gridwidth=0.5),
            )
            layout_axes["yaxis" if k == 1 else f"yaxis{k}"] = dict(
                domain=[1 - ybot / H, 1 - ytop / H], anchor=xa, range=[lo - 0.05 * span, hi + 0.05 * span],
                tickmode="linear", tick0=0, dtick=step, tickformat="d", automargin=False,
                tickfont=dict(size=6.2, color="#4d4d4d", family=FONT), ticks="", showline=False,
                zeroline=False, showgrid=True, gridcolor=GRID, gridwidth=0.7, fixedrange=True,
                minor=dict(tick0=0, dtick=step / 2, showgrid=True, gridcolor=GRID_MINOR, gridwidth=0.5),
            )
            annotations.append(dict(text=f"{st}, {meas}", x=(x0 + x1) / 2 / W, y=1 - (ytop - 0.3) / H,
                                    xref="paper", yref="paper", xanchor="center", yanchor="bottom",
                                    showarrow=False, borderpad=0,
                                    font=dict(size=7.6, color="#1a1a1a", family=FONT)))
            shapes.append(dict(type="line", xref=xa, yref=f"{ya} domain", x0=FORECAST_START, x1=FORECAST_START,
                               y0=0, y1=1, line=dict(color="black", width=1, dash="dash")))

# axis titles
annotations.append(dict(text="Weekly number per 1 million people", x=4.5 / W, y=1 - 215 / H, xref="paper",
                        yref="paper", xanchor="center", yanchor="middle", textangle=-90, showarrow=False,
                        borderpad=0, font=dict(size=7.3, color="#1a1a1a", family=FONT)))
annotations.append(dict(text="Weekly number per 1 million people", x=355 / W, y=1 - 215 / H, xref="paper",
                        yref="paper", xanchor="center", yanchor="middle", textangle=-90, showarrow=False,
                        borderpad=0, font=dict(size=7.3, color="#1a1a1a", family=FONT)))
annotations.append(dict(text="Week Start", x=185 / W, y=1 - 457 / H, xref="paper", yref="paper",
                        xanchor="center", yanchor="middle", showarrow=False,
                        font=dict(size=7.3, color="#1a1a1a", family=FONT)))
annotations.append(dict(text="Week Start", x=545 / W, y=1 - 457 / H, xref="paper", yref="paper",
                        xanchor="center", yanchor="middle", showarrow=False,
                        font=dict(size=7.3, color="#1a1a1a", family=FONT)))

fig.update_layout(width=W, height=H, autosize=False, margin=dict(l=0, r=0, t=0, b=0),
                  paper_bgcolor="white", plot_bgcolor="white", showlegend=False,
                  annotations=annotations, shapes=shapes, font=dict(family=FONT), **layout_axes)

fig.write_html("out.html", config={"displayModeBar": False, "staticPlot": True},
               post_script="document.body.style.margin='0px'; document.body.style.overflow='hidden';")
